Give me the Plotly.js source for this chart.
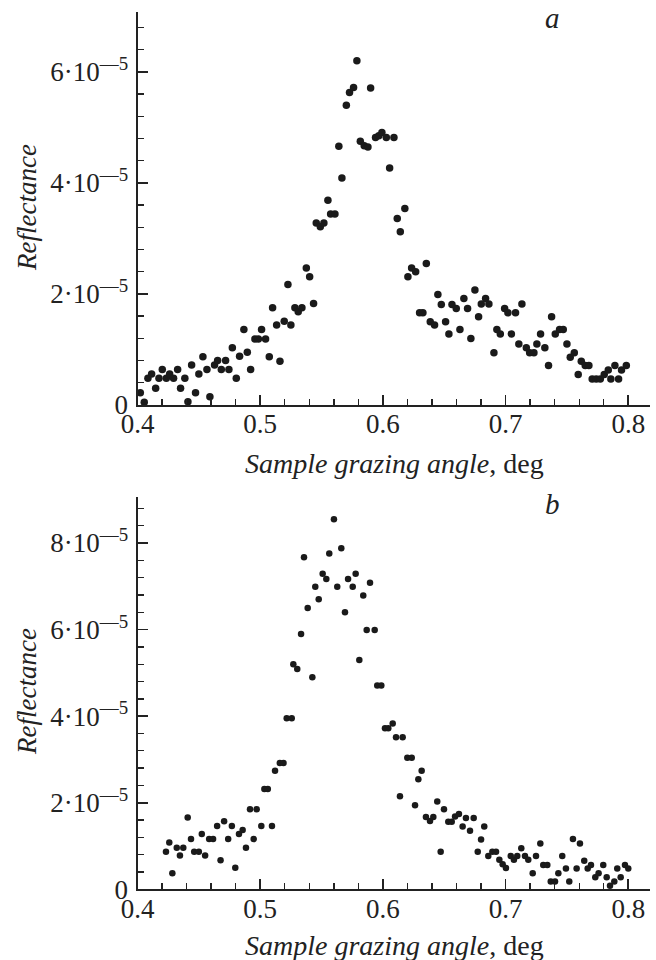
<!DOCTYPE html>
<html>
<head>
<meta charset="utf-8">
<script src="https://cdn.plot.ly/plotly-3.0.1.min.js"></script>
<style>html,body{margin:0;padding:0;background:#fff;}#chart{width:656px;height:960px;}</style>
</head>
<body>
<div id="chart"></div>
<script>
// Panel a: sample grazing angle (deg) and reflectance (units of 1e-5)
var angleA = [0.4023,0.4055,0.4085,0.4115,0.4148,0.4175,0.4202,0.4235,0.4262,0.4294,0.4327,0.4351,0.4386,0.4411,0.4441,0.4473,0.4500,0.4533,0.4566,0.4590,0.4628,0.4653,0.4683,0.4718,0.4745,0.4773,0.4805,0.4832,0.4867,0.4895,0.4922,0.4957,0.4985,0.5011,0.5044,0.5074,0.5101,0.5134,0.5161,0.5196,0.5226,0.5250,0.5283,0.5310,0.5340,0.5376,0.5403,0.5435,0.5457,0.5490,0.5519,0.5552,0.5574,0.5609,0.5641,0.5666,0.5702,0.5728,0.5761,0.5788,0.5816,0.5848,0.5878,0.5900,0.5940,0.5967,0.5992,0.6028,0.6055,0.6090,0.6117,0.6142,0.6179,0.6204,0.6234,0.6267,0.6299,0.6326,0.6354,0.6386,0.6421,0.6448,0.6476,0.6511,0.6538,0.6563,0.6598,0.6628,0.6660,0.6690,0.6717,0.6750,0.6780,0.6802,0.6837,0.6864,0.6905,0.6929,0.6957,0.6992,0.7019,0.7047,0.7081,0.7108,0.7133,0.7169,0.7196,0.7231,0.7255,0.7285,0.7320,0.7350,0.7375,0.7405,0.7440,0.7470,0.7500,0.7527,0.7560,0.7592,0.7617,0.7649,0.7679,0.7706,0.7739,0.7772,0.7804,0.7837,0.7858,0.7891,0.7921,0.7945,0.7984];
var reflA = [0.22,0.05,0.48,0.56,0.30,0.48,0.64,0.48,0.56,0.48,0.64,0.30,0.48,0.06,0.72,0.22,0.56,0.87,0.64,0.15,0.72,0.80,0.64,0.80,0.64,1.03,0.48,0.88,1.36,0.95,0.64,1.19,1.19,1.36,1.19,0.87,1.75,1.44,0.79,1.51,2.17,1.44,1.75,1.68,1.75,2.47,2.31,1.83,3.28,3.21,3.28,3.69,3.44,3.44,4.66,4.09,5.40,5.63,5.72,6.20,4.75,4.67,4.65,5.71,4.82,4.85,4.91,4.82,4.27,4.82,3.36,3.12,3.54,2.31,2.47,2.40,1.66,1.66,2.55,1.50,1.44,1.99,1.81,1.50,1.28,1.81,1.74,1.36,1.92,1.74,1.20,2.07,1.59,1.82,1.92,1.82,0.94,1.36,1.28,1.74,1.66,1.28,1.66,1.10,1.82,1.03,0.94,0.94,1.10,1.28,1.03,0.71,1.59,1.28,1.36,1.36,1.10,0.86,0.94,0.55,0.79,0.71,0.71,0.47,0.47,0.47,0.55,0.63,0.47,0.71,0.47,0.63,0.71];

// Panel b
var angleB = [0.4232,0.4259,0.4284,0.4320,0.4346,0.4373,0.4409,0.4436,0.4462,0.4500,0.4524,0.4551,0.4584,0.4616,0.4649,0.4677,0.4706,0.4739,0.4769,0.4797,0.4827,0.4857,0.4884,0.4917,0.4947,0.4971,0.5009,0.5034,0.5062,0.5096,0.5121,0.5160,0.5190,0.5216,0.5257,0.5270,0.5302,0.5333,0.5357,0.5387,0.5425,0.5449,0.5477,0.5509,0.5539,0.5563,0.5601,0.5628,0.5661,0.5691,0.5716,0.5754,0.5778,0.5808,0.5840,0.5868,0.5895,0.5933,0.5954,0.5987,0.6017,0.6044,0.6080,0.6107,0.6139,0.6161,0.6199,0.6235,0.6262,0.6289,0.6316,0.6351,0.6384,0.6411,0.6443,0.6471,0.6498,0.6533,0.6561,0.6588,0.6620,0.6650,0.6677,0.6710,0.6740,0.6773,0.6800,0.6826,0.6859,0.6892,0.6922,0.6949,0.6976,0.7003,0.7042,0.7068,0.7095,0.7128,0.7158,0.7185,0.7221,0.7248,0.7283,0.7307,0.7340,0.7368,0.7403,0.7430,0.7462,0.7492,0.7519,0.7549,0.7579,0.7606,0.7641,0.7669,0.7696,0.7731,0.7758,0.7796,0.7824,0.7851,0.7886,0.7910,0.7938,0.7973,0.8000];
var reflB = [0.87,1.08,0.37,0.96,0.78,0.96,1.66,1.16,0.87,0.87,1.28,0.78,1.16,1.16,1.46,0.67,1.57,1.16,1.46,0.50,1.28,1.37,0.96,1.85,1.16,1.85,1.46,2.32,2.32,1.46,2.74,2.92,2.92,3.95,3.95,5.20,5.09,5.90,7.67,6.50,4.90,6.99,6.70,7.29,7.17,7.76,8.55,6.99,7.88,6.40,7.17,6.99,7.29,5.30,6.79,5.99,7.08,5.99,4.71,4.71,3.72,3.72,3.83,3.51,2.15,3.51,3.04,3.04,1.94,2.54,2.74,1.67,1.58,1.67,2.03,0.87,1.85,1.56,1.56,1.68,1.74,1.45,1.65,1.35,1.65,0.87,1.15,1.45,0.77,0.87,0.87,0.68,0.58,0.49,0.77,0.68,0.77,0.95,0.77,0.68,0.37,0.77,1.06,0.56,0.56,0.18,0.18,0.37,0.77,0.48,0.18,1.16,0.48,1.06,0.66,0.48,0.56,0.28,0.37,0.56,0.28,0.08,0.18,0.48,0.28,0.56,0.48];

var xTickVals = [0.4,0.5,0.6,0.7,0.8];
var xTickText = ['0.4','0.5','0.6','0.7','0.8'];
var yTickValsA = [0,2,4,6];
var yTickTextA = ['0','2·10<sup>—5</sup>','4·10<sup>—5</sup>','6·10<sup>—5</sup>'];
var yTickValsB = [0,2,4,6,8];
var yTickTextB = ['0','2·10<sup>—5</sup>','4·10<sup>—5</sup>','6·10<sup>—5</sup>','8·10<sup>—5</sup>'];

var W = 656, H = 960;
var FONT = "'Liberation Serif', 'Times New Roman', serif";

function xax(anchor){
  return {
    anchor: anchor, domain: [137.5/W, 650/W], range: [0.4, 0.8177],
    tickmode: 'array', tickvals: xTickVals, ticktext: xTickText,
    ticks: 'inside', ticklen: 10, tickwidth: 1.6, tickcolor: '#222',
    ticklabelstandoff: -6,
    minor: {tick0: 0.4, dtick: 0.02, ticks: 'inside', ticklen: 6, tickwidth: 1.4, tickcolor: '#222', showgrid: false},
    showline: true, linewidth: 2, linecolor: '#222', mirror: false,
    showgrid: false, zeroline: false,
    tickfont: {family: FONT, size: 27, color: '#222'}
  };
}
function yax(anchor, dom, rng, tv, tt){
  return {
    anchor: anchor, domain: dom, range: rng,
    tickmode: 'array', tickvals: tv, ticktext: tt,
    ticks: 'inside', ticklen: 10, tickwidth: 1.6, tickcolor: '#222',
    ticklabelstandoff: 2,
    minor: {tick0: 0, dtick: 0.4, ticks: 'inside', ticklen: 6, tickwidth: 1.4, tickcolor: '#222', showgrid: false},
    showline: true, linewidth: 2, linecolor: '#222',
    showgrid: false, zeroline: false,
    tickfont: {family: FONT, size: 27, color: '#222'}
  };
}

var traces = [
  {x: angleA, y: reflA, xaxis: 'x', yaxis: 'y', type: 'scatter', mode: 'markers',
   marker: {color: '#1a1a1a', size: 7.5}, cliponaxis: false},
  {x: angleB, y: reflB, xaxis: 'x2', yaxis: 'y2', type: 'scatter', mode: 'markers',
   marker: {color: '#1a1a1a', size: 6.5}, cliponaxis: false}
];

var layout = {
  width: W, height: H,
  margin: {l: 0, r: 0, t: 0, b: 0, pad: 0},
  paper_bgcolor: '#fff', plot_bgcolor: '#fff',
  showlegend: false,
  xaxis: xax('y'),
  yaxis: yax('x', [1-405/H, 1-12/H], [0, 7.08], yTickValsA, yTickTextA),
  xaxis2: xax('y2'),
  yaxis2: yax('x2', [1-889.3/H, 1-496.7/H], [0, 9.07], yTickValsB, yTickTextB),
  annotations: [
    {text: '<i>Sample grazing angle</i>, deg', xref: 'paper', yref: 'paper', x: 394/W, y: 1-463/H,
     showarrow: false, xanchor: 'center', yanchor: 'middle', font: {family: FONT, size: 28, color: '#222'}},
    {text: '<i>Sample grazing angle</i>, deg', xref: 'paper', yref: 'paper', x: 394/W, y: 1-945/H,
     showarrow: false, xanchor: 'center', yanchor: 'middle', font: {family: FONT, size: 28, color: '#222'}},
    {text: '<i>Reflectance</i>', xref: 'paper', yref: 'paper', x: 27/W, y: 1-208/H, textangle: -90,
     showarrow: false, xanchor: 'center', yanchor: 'middle', font: {family: FONT, size: 27, color: '#222'}},
    {text: '<i>Reflectance</i>', xref: 'paper', yref: 'paper', x: 27/W, y: 1-692/H, textangle: -90,
     showarrow: false, xanchor: 'center', yanchor: 'middle', font: {family: FONT, size: 27, color: '#222'}},
    {text: '<i>a</i>', xref: 'paper', yref: 'paper', x: 552/W, y: 1-18/H,
     showarrow: false, xanchor: 'center', yanchor: 'middle', font: {family: FONT, size: 29, color: '#222'}},
    {text: '<i>b</i>', xref: 'paper', yref: 'paper', x: 552/W, y: 1-504/H,
     showarrow: false, xanchor: 'center', yanchor: 'middle', font: {family: FONT, size: 29, color: '#222'}}
  ]
};

Plotly.newPlot('chart', traces, layout, {staticPlot: true, displayModeBar: false});
</script>
</body>
</html>
